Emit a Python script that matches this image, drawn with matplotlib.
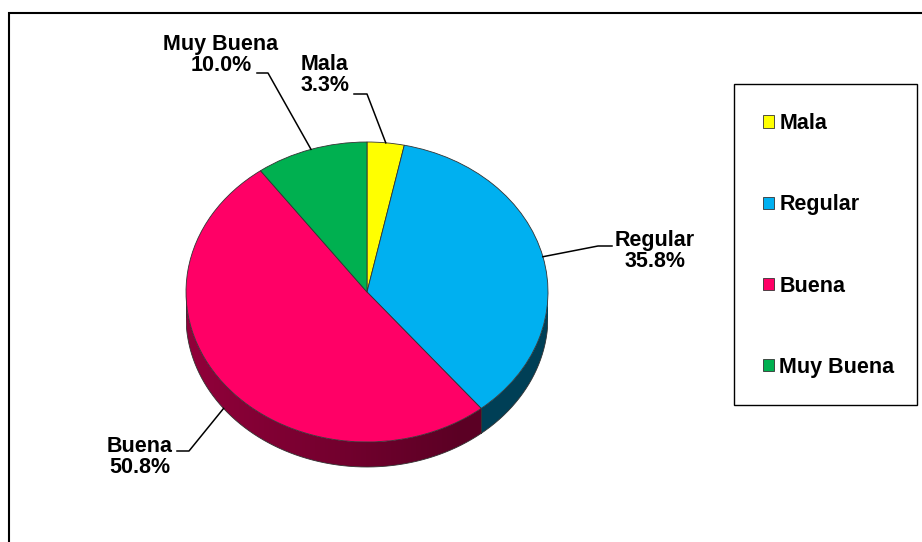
import numpy as np
import matplotlib.pyplot as plt
from matplotlib.patches import Polygon, Rectangle
from matplotlib.colors import to_rgb

labels = ['Mala', 'Regular', 'Buena', 'Muy Buena']
values = [3.3, 35.8, 50.8, 10.0]
colors = ['#FFFF00', '#00B0F0', '#FF0066', '#00B050']

FONT = ['Liberation Sans', 'DejaVu Sans']
W, H = 922, 542
CX, CY, RX, RY = 367, 292, 181, 150   # pie centre / radii in pixels
DEPTH = 25 / RY                        # thickness of the 3d band (axes units)
YLO, YHI = -1.3, 1.05                  # room below for the band


def px(xp, yp):
    # pixel position -> pie axes data coords
    return (xp - CX) / RX, (CY - yp) / RY


fig = plt.figure(figsize=(W / 100, H / 100), dpi=100)
ax = fig.add_axes([(CX - RX) / W, 1 - (CY - YLO * RY) / H, 2 * RX / W, (YHI - YLO) * RY / H])

wedges, _ = ax.pie(values, colors=colors, startangle=90, counterclock=False,
                   wedgeprops=dict(edgecolor='#333333', linewidth=0.6))

# side band (only the front half is visible), shaded left -> right
frac = np.array(values) / sum(values)
bounds = np.concatenate([[0], np.cumsum(frac)]) * 360
xs = np.linspace(-1, 1, 400)
shade = np.clip(0.43 - 0.14 * xs, 0.36, None)
for i, col in enumerate(colors):
    lo, hi = max(bounds[i], 90), min(bounds[i + 1], 270)
    if lo >= hi:
        continue
    tr = np.radians(np.linspace(lo, hi, 200))
    top = np.column_stack([np.sin(tr), np.cos(tr)])
    bot = top[::-1] - [0, DEPTH]
    poly = Polygon(np.vstack([top, bot]), closed=True, fc='none', ec='none',
                   transform=ax.transData)
    ax.add_patch(poly)
    grad = np.array(to_rgb(col))[None, None, :] * shade[None, :, None]
    im = ax.imshow(grad, extent=(-1, 1, -1 - DEPTH, 0.1), aspect='auto',
                   interpolation='bilinear', zorder=0.5)
    im.set_clip_path(poly)
    ax.plot(np.sin(tr), np.cos(tr) - DEPTH, color='#333333', lw=0.6, zorder=0.6)
    for t in (lo, hi):
        r = np.radians(t)
        ax.plot([np.sin(r)] * 2, [np.cos(r), np.cos(r) - DEPTH], color='#333333', lw=0.6,
                zorder=0.6)

ax.set_aspect('auto')
ax.set_xlim(-1, 1)
ax.set_ylim(YLO, YHI)
ax.axis('off')

# data labels with leader lines
label_pos = [(325, 75), (655, 251), (140, 457), (221, 55)]
leader_pts = [((354, 94), (367, 94)), ((612, 246), (598, 246)),
              ((177, 451), (189, 451)), ((257, 73), (268, 73))]
for i, (lab, val) in enumerate(zip(labels, values)):
    tm = np.radians((bounds[i] + bounds[i + 1]) / 2)
    axx, axy = np.sin(tm), np.cos(tm)
    if axy < 0:
        axy -= DEPTH
    p0, p1 = px(*leader_pts[i][0]), px(*leader_pts[i][1])
    ax.plot([p0[0], p1[0], axx], [p0[1], p1[1], axy], color='black', lw=1.1,
            clip_on=False, zorder=3)
    tx, ty = px(*label_pos[i])
    ax.text(tx, ty, f'{lab}\n{val:.1f}%', ha='center', va='center', multialignment='center',
            fontsize=15.5, fontweight='bold', family=FONT, linespacing=1.05)

# legend entries without frame, box drawn separately
leg = fig.legend(wedges, labels, loc='upper left', bbox_to_anchor=(734 / W, 1 - 84 / H),
                 borderaxespad=0, frameon=False, borderpad=1.35, labelspacing=2.8,
                 handlelength=0.5, handleheight=0.5, handletextpad=0.25,
                 prop=dict(family=FONT, weight='bold', size=15.5))
fig.add_artist(Rectangle((734 / W, 1 - 405 / H), 183 / W, 321 / H, transform=fig.transFigure,
                         fill=False, edgecolor='black', lw=1.0))

# outer chart border (runs off the right and bottom edges)
fig.add_artist(Rectangle((9 / W, -0.1), 1.5, 1 - 12.5 / H + 0.1, transform=fig.transFigure,
                         fill=False, edgecolor='black', lw=1.5))

fig.savefig('out.png', dpi=100, facecolor='white')
